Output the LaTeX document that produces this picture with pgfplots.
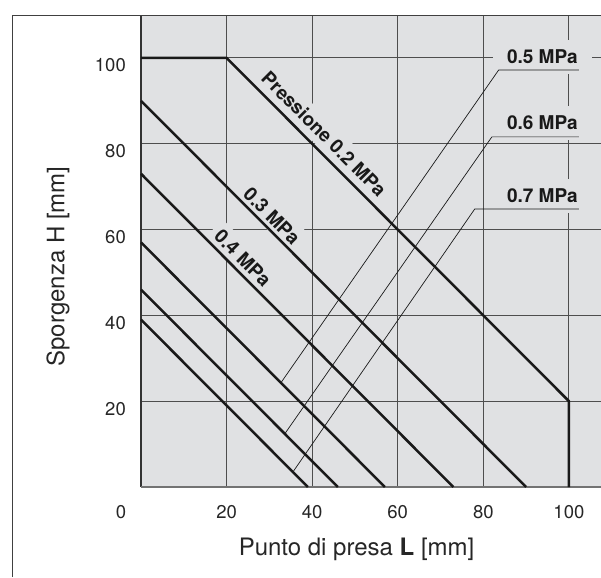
\documentclass[border=0pt]{standalone}
\usepackage{fontspec}
\setmainfont{TeX Gyre Heros}
\usepackage{pgfplots}
\pgfplotsset{compat=1.18}
\definecolor{bgc}{RGB}{224,225,227}
\definecolor{gridc}{RGB}{78,78,78}
\definecolor{linec}{RGB}{25,25,25}
\begin{document}
\begin{tikzpicture}
\path[use as bounding box] (-141pt,-90pt) rectangle (460pt,487pt);
\begin{axis}[
  scale only axis, width=460pt, height=472pt,
  xmin=0, xmax=107.5, ymin=0, ymax=110,
  axis line style={draw=none},
  axis background/.style={fill=bgc},
  xtick={20,40,60,80,100}, ytick={20,40,60,80,100},
  major tick length=0pt,
  grid=major,
  major grid style={draw=gridc, line width=0.9pt},
  tick label style={font=\fontsize{18.5}{20}\selectfont, text=black!85},
  /pgf/number format/assume math mode=true,
  xticklabel style={anchor=center, yshift=-25.5pt, inner sep=0pt},
  yticklabel style={anchor=east, xshift=-15pt, yshift=-7.5pt, inner sep=0pt},
  xlabel={Punto di presa \textbf{L} [mm]},
  ylabel={Sporgenza H [mm]},
  label style={font=\fontsize{24}{26}\selectfont, text=black!85},
  xlabel style={at={(axis description cs:0.4686,-0.1314)}, anchor=center},
  ylabel style={at={(axis description cs:-0.1804,0.467)}, anchor=center},
  clip=false,
]
% labels with masking background
\node[rotate=-45, fill=bgc, inner sep=6pt, font=\bfseries\fontsize{19}{20}\selectfont, text=linec] at (axis cs:42.8,82.3) {Pressione 0.2 MPa};
\node[rotate=-45, fill=bgc, inner sep=6pt, font=\bfseries\fontsize{19}{20}\selectfont, text=linec] at (axis cs:30.6,63.2) {0.3 MPa};
\node[rotate=-45, fill=bgc, inner sep=6pt, font=\bfseries\fontsize{19}{20}\selectfont, text=linec] at (axis cs:23.8,53.4) {0.4 MPa};
\node[fill=bgc, inner xsep=14pt, inner ysep=10pt, font=\bfseries\fontsize{19}{20}\selectfont, text=linec] at (axis cs:93.8,100.2) {0.5 MPa};
\node[fill=bgc, inner xsep=14pt, inner ysep=10pt, font=\bfseries\fontsize{19}{20}\selectfont, text=linec] at (axis cs:93.8,84.8) {0.6 MPa};
\node[fill=bgc, inner xsep=14pt, inner ysep=10pt, font=\bfseries\fontsize{19}{20}\selectfont, text=linec] at (axis cs:93.8,67.8) {0.7 MPa};
% axis borders
\draw[black!80, line width=1.2pt] (axis cs:0,0) -- (axis cs:0,110);
\draw[black!55, line width=1.6pt] (axis cs:0,0) -- (axis cs:107.5,0);
% pressure curves
\addplot[linec, line width=2.5pt, line cap=butt] coordinates {(0,100) (20,100) (100,20) (100,0)};
\addplot[linec, line width=2.5pt, line cap=butt] coordinates {(0,90) (90,0)};
\addplot[linec, line width=2.5pt, line cap=butt] coordinates {(0,73) (73,0)};
\addplot[linec, line width=2.5pt, line cap=butt] coordinates {(0,57) (57,0)};
\addplot[linec, line width=2.5pt, line cap=butt] coordinates {(0,46) (46,0)};
\addplot[linec, line width=2.5pt, line cap=butt] coordinates {(0,39) (39,0)};
% leader lines
\addplot[linec, line width=0.7pt] coordinates {(32.7,24.3) (83.6,97.2) (102.3,97.2)};
\addplot[linec, line width=0.7pt] coordinates {(33.6,12.4) (82.0,81.6) (102.3,81.6)};
\addplot[linec, line width=0.7pt] coordinates {(35.5,3.5) (78.0,64.8) (102.3,64.8)};
\node[font=\fontsize{18.5}{20}\selectfont, text=black!85, inner sep=0pt, anchor=center, xshift=-20pt, yshift=-25.5pt] at (axis cs:0,0) {0};
\end{axis}
\draw[black!75, line width=0.9pt] (-129pt,-90pt) -- (-129pt,472pt) -- (460pt,472pt);
\end{tikzpicture}
\end{document}
